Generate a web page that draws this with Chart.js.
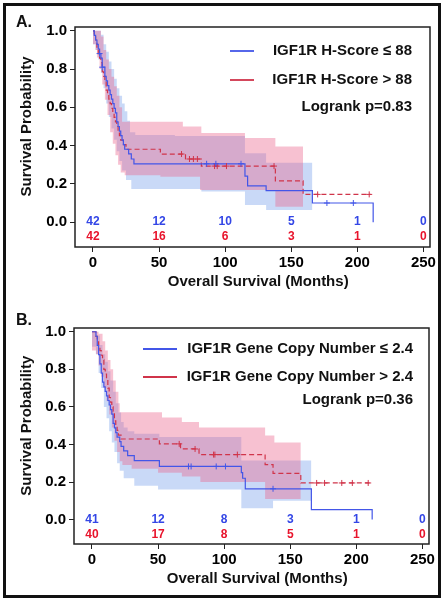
<!DOCTYPE html>
<html>
<head>
<meta charset="utf-8">
<script src="https://cdn.jsdelivr.net/npm/chart.js@4.4.1/dist/chart.umd.min.js"></script>
<style>
  html, body { margin: 0; padding: 0; background: #fff; }
  body { width: 445px; height: 600px; position: relative; overflow: hidden; }
  #frame { position: absolute; left: 3px; top: 3px; width: 432px; height: 589px; border: 3px solid #111; }
  canvas { position: absolute; left: 0; }
  #chartA { top: 0; }
  #chartB { top: 300px; }
</style>
</head>
<body>
<div id="frame"></div>
<canvas id="chartA" width="445" height="300"></canvas>
<canvas id="chartB" width="445" height="300"></canvas>
<script>
const xTicks = [0, 50, 100, 150, 200, 250];
const yTicks = [0, 0.2, 0.4, 0.6, 0.8, 1.0];

// A. IGF1R H-score, [months, survival]
const aBlue = [[0,1],[1,0.976],[2,0.952],[3,0.929],[4,0.905],[5,0.881],[6,0.857],[7,0.81],[9,0.762],[10,0.738],[11,0.714],[12,0.69],[13,0.667],[14,0.643],[15,0.619],[16,0.595],[17,0.571],[18,0.524],[19,0.5],[20,0.476],[21,0.452],[22,0.429],[23,0.405],[24,0.381],[27,0.357],[29,0.33],[31,0.305],[115,0.24],[117,0.19],[131,0.165],[166,0.1],[212,0]];
const aRed = [[0,1],[1,0.976],[2,0.952],[3,0.905],[4,0.881],[5,0.857],[6,0.833],[7,0.786],[8,0.762],[9,0.738],[10,0.69],[11,0.667],[12,0.643],[13,0.619],[14,0.595],[15,0.571],[16,0.548],[17,0.524],[18,0.5],[19,0.476],[20,0.452],[21,0.429],[23,0.405],[25,0.381],[51,0.356],[70,0.33],[82,0.293],[138,0.216],[159,0.145],[210,0.145]];
const aBlueCens = [[5,0.881],[7,0.81],[86,0.305],[93,0.305],[112,0.305],[177,0.1],[197,0.1]];
const aRedCens = [[67,0.356],[73,0.33],[76,0.33],[79,0.33],[92,0.293],[94,0.293],[101,0.293],[137,0.293],[170,0.145],[209,0.145]];
const aBlueUpper = [[0,1],[6,0.98],[8,0.93],[10,0.89],[12,0.84],[14,0.8],[16,0.75],[18,0.7],[20,0.66],[22,0.62],[24,0.58],[26,0.53],[28,0.47],[32,0.455],[62,0.45],[115,0.36],[131,0.31],[166,0.31]];
const aBlueLower = [[0,0.93],[2,0.9],[4,0.85],[6,0.78],[8,0.7],[10,0.62],[12,0.55],[14,0.49],[16,0.43],[18,0.37],[20,0.32],[22,0.27],[25,0.22],[29,0.173],[82,0.16],[115,0.09],[131,0.063],[166,0.063]];
const aRedUpper = [[0,1],[6,0.97],[8,0.9],[10,0.85],[12,0.8],[14,0.76],[16,0.71],[18,0.66],[20,0.6],[22,0.525],[68,0.5],[82,0.466],[115,0.44],[138,0.395],[159,0.395]];
const aRedLower = [[0,0.93],[2,0.9],[3,0.86],[5,0.8],[7,0.72],[9,0.64],[11,0.56],[13,0.47],[15,0.41],[17,0.35],[19,0.3],[21,0.26],[24,0.245],[51,0.237],[81,0.168],[138,0.08],[159,0.08]];
const aRiskBlue = [42, 12, 10, 5, 1, 0];
const aRiskRed = [42, 16, 6, 3, 1, 0];
const aLabels = ['IGF1R H-Score ≤ 88', 'IGF1R H-Score > 88'];
const aLogrank = 'Logrank p=0.83';

// B. IGF1R gene copy number
const bBlue = [[0,1],[3,0.976],[4,0.927],[5,0.878],[6,0.829],[7,0.78],[8,0.732],[9,0.707],[10,0.683],[11,0.659],[12,0.634],[13,0.61],[14,0.585],[15,0.561],[16,0.512],[17,0.488],[18,0.463],[19,0.439],[21,0.415],[22,0.39],[24,0.366],[27,0.341],[32,0.314],[51,0.283],[113,0.25],[114,0.22],[116,0.164],[166,0.053],[212,0]];
const bRed = [[0,1],[3,0.975],[4,0.95],[5,0.925],[6,0.9],[7,0.875],[8,0.85],[9,0.8],[10,0.775],[11,0.75],[12,0.7],[13,0.65],[14,0.625],[15,0.6],[16,0.575],[17,0.525],[18,0.5],[19,0.475],[20,0.45],[22,0.429],[51,0.403],[67,0.376],[81,0.346],[131,0.293],[137,0.246],[158,0.195],[210,0.195]];
const bBlueCens = [[73,0.283],[75,0.283],[94,0.283],[101,0.283],[137,0.164]];
const bRedCens = [[66,0.403],[78,0.376],[92,0.346],[93,0.346],[110,0.346],[170,0.195],[176,0.195],[189,0.195],[197,0.195],[209,0.195]];
const bBlueUpper = [[0,1],[4,0.98],[6,0.93],[8,0.88],[10,0.84],[12,0.79],[14,0.74],[16,0.68],[18,0.62],[20,0.57],[22,0.52],[24,0.49],[27,0.47],[32,0.457],[51,0.44],[113,0.314],[166,0.314]];
const bBlueLower = [[0,0.92],[3,0.88],[5,0.78],[7,0.7],[9,0.6],[11,0.54],[13,0.47],[15,0.41],[17,0.36],[19,0.3],[21,0.26],[24,0.22],[32,0.18],[50,0.16],[113,0.06],[137,0.1],[166,0.1]];
const bRedUpper = [[0,1],[5,0.99],[8,0.95],[10,0.9],[12,0.85],[14,0.8],[16,0.74],[18,0.68],[20,0.62],[21,0.571],[53,0.544],[68,0.52],[81,0.49],[131,0.447],[138,0.41],[158,0.41]];
const bRedLower = [[0,0.9],[3,0.88],[5,0.82],[7,0.76],[9,0.7],[11,0.63],[13,0.56],[15,0.49],[17,0.42],[19,0.36],[21,0.31],[23,0.29],[30,0.27],[50,0.25],[68,0.23],[82,0.2],[131,0.11],[158,0.11]];
const bRiskBlue = [41, 12, 8, 3, 1, 0];
const bRiskRed = [40, 17, 8, 5, 1, 0];
const bLabels = ['IGF1R Gene Copy Number ≤ 2.4', 'IGF1R Gene Copy Number > 2.4'];
const bLogrank = 'Logrank p=0.36';

const BLUE = '#4356e8';
const RED = '#d0344a';
const BLUE_BAND = 'rgba(120,160,235,0.4)';
const RED_BAND = 'rgba(235,100,140,0.4)';
const FONT = '"Liberation Sans", Arial, sans-serif';

Chart.defaults.font.family = FONT;

const pts = arr => arr.map(([x, y]) => ({ x, y }));

const kmPlugin = {
  id: 'km',
  afterDraw(chart, args, o) {
    const { ctx, chartArea: a } = chart;
    const x = chart.scales.x, y = chart.scales.y;
    ctx.save();
    ctx.strokeStyle = '#222';
    ctx.lineWidth = 1.5;
    ctx.strokeRect(a.left, a.top, a.right - a.left, a.bottom - a.top);

    // numbers at risk
    ctx.font = 'bold 12px ' + FONT;
    ctx.textAlign = 'center';
    ctx.textBaseline = 'middle';
    xTicks.forEach((t, i) => {
      const px = x.getPixelForValue(t);
      ctx.fillStyle = '#3346e6';
      ctx.fillText(o.riskBlue[i], px, y.getPixelForValue(0));
      ctx.fillStyle = '#e8142c';
      ctx.fillText(o.riskRed[i], px, y.getPixelForValue(-0.078));
    });

    // legend
    ctx.font = 'bold 15px ' + FONT;
    ctx.textAlign = 'right';
    ctx.lineWidth = 1.8;
    [BLUE, RED].forEach((c, i) => {
      const ty = a.top + o.rows[i];
      ctx.fillStyle = '#111';
      ctx.fillText(o.labels[i], o.textRight, ty);
      ctx.strokeStyle = c;
      ctx.beginPath();
      ctx.moveTo(o.line[0], ty);
      ctx.lineTo(o.line[1], ty);
      ctx.stroke();
    });
    ctx.fillText(o.logrank, o.textRight, a.top + o.rows[2]);

    // axis titles
    ctx.textAlign = 'center';
    ctx.fillText('Overall Survival (Months)', (x.getPixelForValue(0) + x.getPixelForValue(250)) / 2, a.bottom + 35);
    ctx.save();
    ctx.translate(27, (y.getPixelForValue(0) + y.getPixelForValue(1)) / 2);
    ctx.rotate(-Math.PI / 2);
    ctx.fillText('Survival Probability', 0, 0);
    ctx.restore();

    // panel letter
    ctx.font = 'bold 16px ' + FONT;
    ctx.textAlign = 'left';
    ctx.fillText(o.letter, 16, o.letterY);
    ctx.restore();
  }
};

function makeChart(id, d, geo) {
  const band = (data, fill, color, order) => ({
    data: pts(data), stepped: true, pointRadius: 0, borderWidth: 0,
    borderColor: 'transparent', backgroundColor: color, fill, order
  });
  return new Chart(document.getElementById(id), {
    type: 'line',
    data: {
      datasets: [
        { data: pts(d.blue), stepped: true, pointRadius: 0, borderColor: BLUE, borderWidth: 1.2, fill: false, order: 3 },
        { data: pts(d.red), stepped: true, pointRadius: 0, borderColor: RED, borderWidth: 1.2, borderDash: [5, 3], fill: false, order: 4 },
        { data: pts(d.blueCens), showLine: false, pointStyle: 'cross', pointRadius: 3, borderColor: BLUE, borderWidth: 1, order: 1 },
        { data: pts(d.redCens), showLine: false, pointStyle: 'cross', pointRadius: 3, borderColor: RED, borderWidth: 1, order: 2 },
        band(d.blueUpper, '+1', BLUE_BAND, 10),
        band(d.blueLower, false, 'transparent', 9),
        band(d.redUpper, '+1', RED_BAND, 8),
        band(d.redLower, false, 'transparent', 7)
      ]
    },
    options: {
      responsive: false,
      animation: false,
      events: [],
      layout: { padding: { left: 0, right: geo.right, top: geo.top, bottom: 0 } },
      plugins: {
        legend: { display: false },
        tooltip: { enabled: false },
        km: geo.km
      },
      scales: {
        x: {
          type: 'linear', min: -13.6, max: 255,
          afterBuildTicks: s => { s.ticks = xTicks.map(v => ({ value: v })); },
          afterFit: s => { s.height = geo.xh; },
          ticks: { color: '#000', font: { size: 15, weight: 'bold' }, padding: 2, maxRotation: 0, autoSkip: false, callback: v => String(v) },
          grid: { drawOnChartArea: false, drawTicks: true, tickLength: 5, color: '#222' },
          border: { display: false }
        },
        y: {
          type: 'linear', min: -0.13, max: 1.02,
          afterBuildTicks: s => { s.ticks = yTicks.map(v => ({ value: v })); },
          afterFit: s => { s.width = geo.yw; },
          ticks: { color: '#000', font: { size: 15, weight: 'bold' }, padding: 3, autoSkip: false, callback: v => v.toFixed(1) },
          grid: { drawOnChartArea: false, drawTicks: true, tickLength: 5, color: '#222' },
          border: { display: false }
        }
      }
    },
    plugins: [kmPlugin]
  });
}

makeChart('chartA', {
  blue: aBlue, red: aRed, blueCens: aBlueCens, redCens: aRedCens,
  blueUpper: aBlueUpper, blueLower: aBlueLower, redUpper: aRedUpper, redLower: aRedLower
}, {
  right: 15, top: 27, xh: 53, yw: 75,
  km: { riskBlue: aRiskBlue, riskRed: aRiskRed, labels: aLabels, logrank: aLogrank,
        rows: [24, 53, 80], textRight: 412, line: [230, 254], letter: 'A.', letterY: 23 }
});

makeChart('chartB', {
  blue: bBlue, red: bRed, blueCens: bBlueCens, redCens: bRedCens,
  blueUpper: bBlueUpper, blueLower: bBlueLower, redUpper: bRedUpper, redLower: bRedLower
}, {
  right: 16, top: 28, xh: 56, yw: 74,
  km: { riskBlue: bRiskBlue, riskRed: bRiskRed, labels: bLabels, logrank: bLogrank,
        rows: [21, 49, 72], textRight: 413, line: [143, 177], letter: 'B.', letterY: 21 }
});
</script>
</body>
</html>
